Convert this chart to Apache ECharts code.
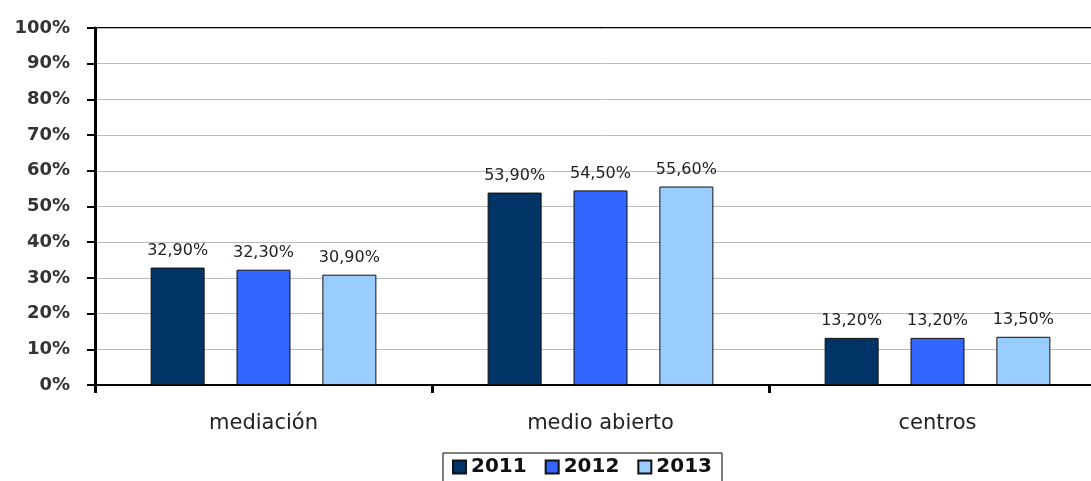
<!DOCTYPE html>
<html>
<head>
<meta charset="utf-8">
<script src="https://cdn.jsdelivr.net/npm/echarts@6/dist/echarts.min.js"></script>
<style>
html,body{margin:0;padding:0;background:#fff;overflow:hidden;width:1091px;height:481px;}
#chart{width:1106px;height:481px;}
</style>
</head>
<body>
<div id="chart"></div>
<script>
const categories = ['mediación', 'medio abierto', 'centros'];
const seriesNames = ['2011', '2012', '2013'];
const values2011 = [32.9, 53.9, 13.2];
const values2012 = [32.3, 54.5, 13.2];
const values2013 = [30.9, 55.6, 13.5];
const colors = ['#003366', '#3366FF', '#99CCFF'];

const allValues = [values2011, values2012, values2013];
const chart = echarts.init(document.getElementById('chart'));
chart.setOption({
  animation: false,
  backgroundColor: '#fff',
  grid: {left: 95, right: 0, top: 28, bottom: 96, show: true, borderColor: '#000', borderWidth: 2},
  legend: {
    left: 443, top: 453,
    data: seriesNames,
    itemWidth: 13, itemHeight: 13, itemGap: 18,
    borderColor: '#000', borderWidth: 1,
    padding: [4, 10, 6, 9],
    textStyle: {fontFamily: 'DejaVu Sans', fontWeight: 'bold', fontSize: 20, color: '#111', padding: [0,0,0,0]},
    icon: 'rect'
  },
  xAxis: {
    type: 'category',
    data: categories,
    axisLine: {lineStyle: {color: '#000', width: 2}},
    axisTick: {show: true, length: 8, inside: false, lineStyle: {color: '#000', width: 3}},
    axisLabel: {margin: 28, fontFamily: 'DejaVu Sans', fontSize: 21, color: '#222'}
  },
  yAxis: {
    type: 'value', min: 0, max: 100, interval: 10,
    axisLine: {show: true, lineStyle: {color: '#000', width: 3}},
    axisTick: {show: true, length: 8, lineStyle: {color: '#000', width: 2}},
    axisLabel: {formatter: '{value}%', margin: 25, fontFamily: 'DejaVu Sans', fontWeight: 'bold', fontSize: 18, color: '#333'},
    splitLine: {lineStyle: {color: '#bbbbbb', width: 1}}
  },
  series: seriesNames.map((n, i) => ({
    name: n,
    type: 'bar',
    data: allValues[i],
    barWidth: 54,
    barGap: '59%',
    itemStyle: {color: colors[i], borderColor: '#111', borderWidth: 1},
    label: {
      show: true, position: 'top', distance: 9,
      fontFamily: 'DejaVu Sans', fontSize: 16, color: '#222',
      formatter: p => p.value.toFixed(2).replace('.', ',') + '%'
    }
  }))
});
</script>
</body>
</html>
